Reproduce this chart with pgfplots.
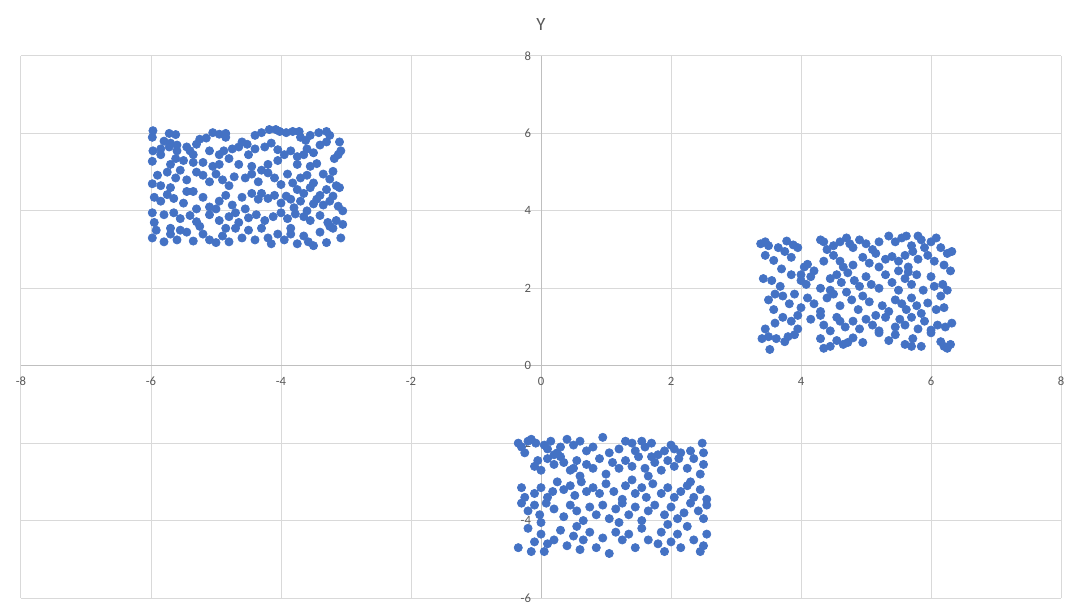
\documentclass[border=0pt]{standalone}
\usepackage{pgfplots}
\pgfplotsset{compat=1.18}
\usepackage{fontspec}
\setmainfont{Carlito}
\definecolor{ptblue}{HTML}{4472C4}
\definecolor{gridc}{HTML}{D9D9D9}
\definecolor{axc}{HTML}{BFBFBF}
\definecolor{txt}{HTML}{595959}
\pgfplotsset{pt/.style={only marks, mark=*, mark size=3.1pt, mark options={fill=ptblue, draw=ptblue, line width=0.5pt}}}
\begin{document}
\begin{tikzpicture}
\useasboundingbox (0,0) rectangle (811.5pt,461.25pt);
\begin{axis}[
  at={(15.75pt,12.75pt)}, anchor=south west,
  scale only axis, width=780pt, height=406.5pt,
  xmin=-8, xmax=8, ymin=-6, ymax=8,
  xtick={-8,-6,...,8}, ytick={-6,-4,...,8},
  axis lines=middle,
  axis line style={-, draw=axc, line width=0.75pt},
  hide obscured x ticks=false, hide obscured y ticks=false,
  grid=major, major grid style={draw=gridc, line width=0.75pt},
  major tick length=0pt,
  /pgf/number format/assume math mode=true,
  tick label style={font=\fontsize{9.5}{11}\selectfont, text=txt},
  xticklabel style={yshift=-5pt},
  yticklabel style={xshift=-4pt},
  title={Y},
  title style={at={(0.5,1)}, anchor=center, yshift=17.5pt, font=\fontsize{14}{16}\selectfont, text=txt},
  clip=false,
]
\addplot[pt] table {
x y
-5.97 6.07
-5.98 5.9
-5.72 6.0
-5.62 5.97
-5.8 5.8
-5.7 5.75
-5.6 5.7
-5.25 5.85
-5.15 5.88
-5.05 6.02
-4.95 5.98
-4.85 6.0
-4.85 5.9
-4.6 5.78
-4.52 5.72
-4.4 5.95
-4.3 6.02
-4.18 6.1
-4.08 6.1
-4.02 6.05
-3.92 6.02
-3.82 6.05
-3.72 6.05
-3.7 5.9
-3.62 5.82
-3.55 5.95
-3.42 6.02
-3.3 6.05
-3.25 5.95
-3.3 5.78
-3.1 5.78
-3.4 5.7
-3.6 5.6
-3.5 5.5
-3.08 5.55
-3.12 5.45
-3.18 5.35
-5.97 5.55
-5.85 5.6
-5.72 5.65
-5.6 5.55
-5.4 5.55
-5.45 5.65
-5.3 5.72
-5.35 5.45
-5.1 5.55
-4.95 5.45
-4.88 5.55
-4.8 5.35
-4.75 5.6
-4.65 5.65
-4.5 5.45
-4.4 5.6
-4.25 5.65
-4.15 5.75
-4.05 5.58
-3.95 5.45
-3.85 5.55
-3.75 5.4
-3.65 5.45
-3.55 5.15
-3.45 5.22
-3.75 5.2
-4.05 5.3
-4.2 5.2
-4.3 5.05
-4.45 5.15
-4.65 5.2
-4.95 5.2
-5.05 5.15
-5.2 5.25
-5.35 5.25
-5.5 5.3
-5.62 5.35
-5.7 5.2
-5.85 5.45
-5.98 5.28
-5.9 4.92
-5.75 5.0
-5.62 4.85
-5.55 5.05
-5.45 4.8
-5.3 5.0
-5.2 4.92
-5.1 4.75
-5.0 4.95
-4.9 4.8
-4.8 4.65
-4.72 4.88
-4.55 4.85
-4.45 4.95
-4.35 4.75
-4.2 4.98
-4.1 4.85
-4.0 4.68
-3.9 4.95
-3.82 4.72
-3.7 4.85
-3.6 4.92
-3.5 4.72
-3.35 4.95
-3.25 4.82
-3.2 5.02
-3.1 4.6
-3.15 4.65
-3.3 4.55
-3.55 4.6
-3.65 4.45
-3.75 4.55
-5.98 4.7
-5.85 4.65
-5.7 4.6
-5.45 4.5
-5.95 4.35
-5.85 4.25
-5.75 4.42
-5.65 4.32
-5.5 4.2
-5.35 4.5
-5.2 4.35
-5.1 4.1
-4.95 4.25
-4.85 4.4
-4.75 4.15
-4.6 4.35
-4.45 4.45
-4.35 4.3
-4.3 4.45
-4.2 4.32
-4.1 4.4
-4.0 4.2
-3.92 4.38
-3.85 4.3
-3.8 4.08
-3.7 4.25
-3.6 4.0
-3.5 4.18
-3.45 4.3
-3.35 4.15
-3.25 4.25
-3.12 4.12
-3.05 4.0
-3.2 4.38
-3.4 4.4
-4.55 4.05
-4.7 3.95
-5.0 4.05
-5.3 4.05
-5.98 3.95
-5.8 3.9
-5.65 3.95
-5.55 3.8
-5.4 3.88
-5.3 3.72
-5.1 3.9
-4.95 3.75
-4.8 3.85
-4.65 3.7
-4.5 3.82
-4.38 3.9
-4.25 3.75
-4.12 3.85
-4.0 3.95
-3.9 3.8
-3.78 3.92
-3.65 3.85
-3.55 3.75
-3.4 3.88
-3.28 3.7
-3.15 3.75
-3.05 3.65
-5.95 3.7
-5.7 3.55
-5.98 3.3
-5.92 3.5
-5.8 3.2
-5.7 3.4
-5.55 3.5
-5.45 3.45
-5.35 3.22
-5.2 3.4
-5.1 3.25
-5.0 3.18
-4.9 3.35
-4.8 3.2
-4.7 3.55
-4.6 3.3
-4.5 3.5
-4.4 3.25
-4.3 3.55
-4.2 3.3
-4.15 3.15
-4.05 3.4
-3.95 3.25
-3.85 3.55
-3.75 3.15
-3.65 3.35
-3.58 3.2
-3.5 3.1
-3.4 3.45
-3.3 3.18
-3.2 3.55
-3.08 3.3
-3.25 3.6
-3.85 3.4
-4.85 3.55
-5.25 3.6
-5.6 3.25
};
\addplot[pt] table {
x y
3.38 3.15
3.45 3.2
3.5 3.1
3.65 3.05
3.78 3.22
3.88 3.12
3.95 3.05
4.3 3.25
4.35 3.2
4.5 3.1
4.6 3.2
4.7 3.3
4.75 3.15
4.9 3.25
5.0 3.15
5.1 3.0
5.2 3.2
5.35 3.35
5.45 3.2
5.55 3.3
5.62 3.35
5.8 3.35
5.85 3.25
6.0 3.2
6.08 3.3
6.15 3.05
6.25 2.9
6.32 2.95
5.9 3.05
5.7 3.1
4.4 3.0
4.8 3.05
3.45 2.85
3.58 2.72
3.75 2.95
3.85 2.8
3.7 2.5
4.05 2.55
4.1 2.62
4.2 2.45
4.35 2.7
4.5 2.85
4.6 2.7
4.65 2.55
4.8 2.6
4.95 2.8
5.05 2.65
5.15 2.9
5.2 2.55
5.3 2.75
5.4 2.82
5.5 2.7
5.6 2.85
5.65 2.55
5.72 2.95
5.8 2.75
5.95 2.85
6.05 2.7
6.2 2.6
6.3 2.45
5.65 2.42
4.0 2.35
3.42 2.25
3.55 2.2
3.68 2.05
3.85 2.35
4.0 2.2
4.08 2.1
4.15 2.3
4.3 2.0
4.45 2.25
4.55 2.35
4.62 2.15
4.72 2.4
4.82 2.2
4.9 2.05
5.0 2.3
5.08 2.1
5.2 2.0
5.3 2.35
5.4 2.15
5.5 1.95
5.6 2.25
5.7 2.1
5.78 2.35
5.88 1.95
6.0 2.3
6.05 2.05
6.18 2.1
6.25 1.95
5.5 2.45
4.45 1.95
3.5 1.7
3.6 1.85
3.72 1.8
3.82 1.6
3.9 1.85
4.0 1.5
4.1 1.75
4.2 1.6
4.3 1.4
4.4 1.75
4.5 1.85
4.6 1.55
4.7 1.9
4.78 1.7
4.88 1.45
4.95 1.8
5.05 1.65
5.15 1.3
5.25 1.55
5.35 1.4
5.45 1.7
5.55 1.6
5.62 1.45
5.7 1.75
5.78 1.55
5.85 1.35
5.95 1.62
6.08 1.45
6.2 1.5
6.15 1.8
3.58 1.45
4.3 1.3
3.95 1.3
3.45 0.95
3.6 1.1
3.72 1.25
3.85 1.15
3.95 0.95
4.15 1.2
4.35 1.05
4.45 0.9
4.55 1.25
4.68 1.0
4.8 1.15
4.9 0.95
5.0 1.2
5.1 1.05
5.2 0.9
5.3 1.25
5.45 1.0
5.52 1.2
5.6 1.05
5.7 1.25
5.8 0.95
5.9 1.15
6.0 0.92
6.1 1.05
6.22 1.0
6.32 1.1
4.6 1.15
3.4 0.7
3.5 0.75
3.52 0.42
3.62 0.7
3.75 0.62
3.8 0.75
3.9 0.8
4.3 0.7
4.35 0.45
4.45 0.5
4.55 0.65
4.65 0.55
4.72 0.6
4.8 0.72
4.95 0.6
5.2 0.85
5.35 0.65
5.6 0.55
5.7 0.5
5.72 0.7
5.85 0.5
6.0 0.85
6.2 0.5
6.25 0.45
6.3 0.55
6.15 0.62
5.45 0.8
};
\addplot[pt] table {
x y
-0.35 -2.0
-0.3 -2.1
-0.2 -1.95
-0.15 -1.9
-0.08 -2.0
0.05 -2.05
0.15 -1.95
0.25 -2.25
0.3 -2.1
0.4 -1.9
0.5 -2.05
0.6 -1.95
0.7 -2.2
0.8 -2.1
0.95 -1.85
1.05 -2.25
1.2 -2.15
1.3 -1.95
1.4 -2.0
1.45 -2.2
1.55 -1.95
1.6 -2.1
1.7 -2.0
1.8 -2.3
1.9 -2.2
2.0 -2.05
2.05 -2.15
2.15 -2.25
2.3 -2.2
2.48 -2.0
2.5 -2.25
0.2 -2.3
-0.25 -2.25
0.1 -2.15
-0.1 -2.6
0.0 -2.7
0.1 -2.4
0.2 -2.55
0.3 -2.35
0.35 -2.5
0.45 -2.7
0.55 -2.45
0.6 -2.85
0.7 -2.55
0.8 -2.65
0.9 -2.4
1.0 -2.8
1.1 -2.5
1.2 -2.65
1.3 -2.45
1.4 -2.6
1.5 -2.35
1.6 -2.65
1.65 -2.85
1.75 -2.5
1.85 -2.7
1.95 -2.45
2.05 -2.6
2.12 -2.4
2.25 -2.65
2.35 -2.4
2.5 -2.55
2.45 -2.8
1.7 -2.35
0.5 -2.65
-0.05 -2.45
-0.3 -3.15
-0.25 -3.4
-0.1 -3.3
0.0 -3.15
0.1 -3.4
0.18 -3.25
0.25 -3.0
0.35 -3.2
0.45 -3.1
0.52 -3.35
0.62 -3.0
0.7 -3.25
0.8 -3.15
0.9 -3.3
1.0 -3.05
1.12 -3.25
1.25 -3.45
1.3 -3.1
1.45 -3.3
1.55 -3.15
1.62 -3.4
1.72 -3.05
1.85 -3.3
1.95 -3.15
2.05 -3.4
2.15 -3.25
2.25 -3.1
2.35 -3.4
2.45 -3.2
2.55 -3.45
2.3 -3.0
1.4 -2.95
-0.3 -3.55
-0.2 -3.75
-0.1 -3.6
-0.02 -3.85
0.08 -3.55
0.2 -3.7
0.35 -3.9
0.45 -3.6
0.55 -3.75
0.65 -4.0
0.75 -3.65
0.85 -3.85
0.95 -3.6
1.05 -3.95
1.15 -3.7
1.25 -3.55
1.35 -3.85
1.45 -3.65
1.55 -4.0
1.65 -3.75
1.75 -3.6
1.9 -3.85
2.0 -3.65
2.1 -3.95
2.2 -3.8
2.3 -3.55
2.42 -3.75
2.55 -3.6
2.5 -3.95
0.0 -4.05
1.2 -4.05
-0.35 -4.7
-0.2 -4.2
-0.15 -4.8
-0.1 -4.55
0.0 -4.35
0.1 -4.6
0.05 -4.8
0.2 -4.5
0.3 -4.25
0.4 -4.65
0.5 -4.4
0.6 -4.75
0.65 -4.5
0.75 -4.3
0.85 -4.7
0.95 -4.45
1.05 -4.85
1.15 -4.3
1.25 -4.5
1.35 -4.35
1.45 -4.7
1.55 -4.2
1.65 -4.5
1.85 -4.3
1.9 -4.8
1.95 -4.1
2.0 -4.55
2.1 -4.35
2.15 -4.7
2.25 -4.15
2.35 -4.5
2.45 -4.8
2.55 -4.35
2.5 -4.65
0.55 -4.15
1.8 -4.6
};
\end{axis}
\end{tikzpicture}
\end{document}
